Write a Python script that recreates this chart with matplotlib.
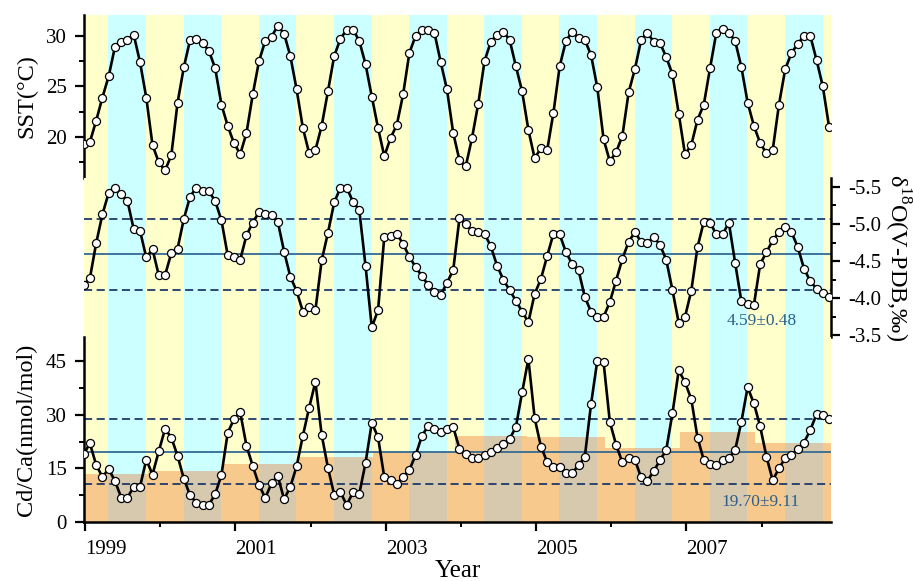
import numpy as np
import matplotlib.pyplot as plt

# Times-like font, with a fallback for any missing glyph
plt.rcParams['font.family'] = ['Liberation Serif', 'DejaVu Serif']
plt.rcParams['mathtext.fontset'] = 'custom'
plt.rcParams['mathtext.rm'] = 'Liberation Serif'
plt.rcParams['axes.unicode_minus'] = False

# monthly series, first sample at the start of 1999
START_YEAR = 1998.98

sst = [19.3, 19.5, 21.6, 23.9, 26.0, 28.9, 29.4, 29.6, 30.1, 27.4,
       23.9, 19.2, 17.5, 16.7, 18.2, 23.4, 26.9, 29.6, 29.7, 29.3,
       28.5, 26.8, 23.2, 21.1, 19.4, 18.3, 20.4, 24.2, 27.5, 29.5,
       29.9, 31.0, 30.2, 28.0, 24.7, 20.9, 18.4, 18.7, 21.1, 24.5,
       28.0, 29.7, 30.6, 30.6, 29.5, 27.2, 24.0, 20.9, 18.1, 19.9,
       21.2, 24.2, 28.3, 30.0, 30.6, 30.6, 30.3, 27.4, 24.7, 20.4,
       17.7, 17.1, 19.9, 23.3, 27.5, 29.4, 30.1, 30.4, 29.6, 27.0,
       24.5, 20.7, 17.9, 18.9, 18.7, 22.4, 27.0, 29.5, 30.4, 29.8,
       29.6, 28.1, 24.9, 19.8, 17.6, 18.5, 20.1, 24.4, 26.7, 29.6,
       30.3, 29.4, 29.3, 27.9, 26.2, 22.3, 18.3, 19.2, 21.7, 23.2,
       26.8, 30.3, 30.7, 30.3, 29.5, 26.9, 23.4, 21.1, 19.4, 18.4,
       18.7, 23.2, 26.7, 28.3, 29.2, 30.0, 30.0, 27.6, 25.0, 21.0]

d18o = [-4.18, -4.27, -4.74, -5.13, -5.42, -5.49, -5.40, -5.31, -4.93, -4.91,
        -4.55, -4.66, -4.31, -4.31, -4.61, -4.67, -5.07, -5.37, -5.49, -5.44,
        -5.44, -5.31, -5.05, -4.58, -4.55, -4.52, -4.85, -5.02, -5.16, -5.14,
        -5.12, -5.03, -4.63, -4.29, -4.10, -3.82, -3.88, -3.84, -4.51, -4.88,
        -5.29, -5.49, -5.49, -5.30, -5.19, -4.44, -3.61, -3.84, -4.83, -4.84,
        -4.87, -4.73, -4.56, -4.42, -4.30, -4.18, -4.08, -4.04, -4.21, -4.38,
        -5.08, -5.00, -4.91, -4.89, -4.87, -4.70, -4.44, -4.25, -4.11, -3.97,
        -3.82, -3.68, -4.06, -4.26, -4.57, -4.87, -4.86, -4.62, -4.46, -4.38,
        -4.02, -3.82, -3.75, -3.75, -3.95, -4.24, -4.53, -4.76, -4.89, -4.76,
        -4.74, -4.83, -4.72, -4.52, -4.11, -3.67, -3.75, -4.10, -4.69, -5.03,
        -5.02, -4.86, -4.86, -5.02, -4.48, -3.96, -3.93, -3.91, -4.46, -4.62,
        -4.78, -4.89, -4.96, -4.89, -4.69, -4.40, -4.23, -4.13, -4.07, -4.02]

cdca = [18.9, 22.0, 16.0, 12.6, 14.9, 11.5, 6.9, 6.9, 9.9, 9.9,
        17.4, 13.3, 19.8, 26.0, 23.6, 18.5, 12.1, 7.5, 5.5, 4.9,
        4.9, 7.8, 13.2, 24.9, 28.7, 30.6, 21.3, 15.7, 10.4, 6.8,
        10.9, 12.9, 6.4, 9.9, 15.6, 24.1, 31.9, 39.1, 24.4, 15.2,
        7.7, 8.4, 4.8, 8.4, 7.9, 16.5, 27.7, 23.7, 12.5, 11.8,
        10.7, 12.6, 14.6, 18.7, 24.0, 26.9, 26.0, 25.2, 25.9, 26.5,
        20.5, 18.9, 17.8, 18.0, 18.7, 19.6, 20.6, 21.8, 23.2, 26.5,
        36.2, 45.5, 29.0, 21.1, 16.8, 15.5, 15.5, 13.7, 13.7, 15.9,
        18.1, 32.9, 45.0, 44.6, 28.0, 21.6, 16.7, 18.0, 17.4, 12.5,
        11.6, 14.2, 17.3, 20.1, 30.4, 42.3, 39.0, 34.3, 23.6, 17.3,
        16.2, 15.9, 17.3, 17.9, 20.1, 28.0, 37.6, 33.1, 26.7, 18.3,
        11.7, 15.0, 17.9, 18.8, 20.4, 22.2, 25.7, 30.1, 30.0, 28.9]

# annual mean Cd/Ca (step bars)
bar_edges = [1998.98, 1999.83, 2000.83, 2001.83, 2002.83, 2003.92,
             2004.88, 2005.92, 2006.91, 2007.91, 2008.92]
bar_means = [13.4, 14.2, 16.2, 18.1, 19.5, 24.1, 23.7, 20.8, 25.1, 22.2]

D18O_MEAN, D18O_SD = 4.59, 0.48
CDCA_MEAN, CDCA_SD = 19.70, 9.11

year_ticks = [1999, 2001, 2003, 2005, 2007]
year_minor = [2000, 2002, 2004, 2006, 2008]

X_MIN, X_MAX = 1998.985, 2008.92
YELLOW = '#FFFFCC'
CYAN = '#CCFFFF'
SOLID_C = '#356A94'
DASH_C = '#1E3A6A'
TEXT_C = '#2B5F8C'


def add_bands(ax):
    # alternating half-year bands, cyan for the warm half
    ax.set_facecolor(YELLOW)
    for y in range(1999, 2009):
        ax.axvspan(y + 0.31, y + 0.81, color=CYAN, lw=0, zorder=0)
    ax.set_xlim(X_MIN, X_MAX)


def style_ticks(ax):
    ax.tick_params(which='major', direction='out', length=6.5, width=1.6,
                   labelsize=15, pad=6)
    ax.tick_params(which='minor', direction='out', length=3.8, width=1.4)
    for s in ax.spines.values():
        s.set_linewidth(1.8)


def plot_series(ax, x, y):
    ax.plot(x, y, '-o', color='black', lw=1.9, ms=5.8, mfc='white',
            mec='black', mew=0.9, zorder=4)


def main():
    months = START_YEAR + np.arange(len(sst)) / 12.0

    fig = plt.figure(figsize=(9.13, 5.81), dpi=100)
    ax1 = fig.add_axes([0.092, 0.6936, 0.818, 0.2806])
    ax2 = fig.add_axes([0.092, 0.42, 0.818, 0.2737])
    ax3 = fig.add_axes([0.092, 0.101, 0.818, 0.319])

    for ax in (ax1, ax2, ax3):
        add_bands(ax)

    # SST panel
    plot_series(ax1, months, sst)
    ax1.set_ylim(15.95, 32.05)
    ax1.set_yticks([20, 25, 30])
    ax1.set_yticks([17.5, 22.5, 27.5], minor=True)
    ax1.set_xticks([])
    for s in ('top', 'right', 'bottom'):
        ax1.spines[s].set_visible(False)
    ax1.set_ylabel('SST(°C)', fontsize=17.5, labelpad=6)
    style_ticks(ax1)

    # d18O panel (inverted, right axis)
    ax2.axhline(-D18O_MEAN, color=SOLID_C, lw=1.3, zorder=2)
    for v in (-D18O_MEAN - D18O_SD, -D18O_MEAN + D18O_SD):
        ax2.axhline(v, color=DASH_C, lw=1.3, ls=(0, (4.5, 2.5)), zorder=2)
    plot_series(ax2, months, d18o)
    ax2.set_ylim(-3.48, -5.62)
    ax2.set_yticks([-5.5, -5.0, -4.5, -4.0, -3.5])
    ax2.set_yticks([-5.25, -4.75, -4.25, -3.75], minor=True)
    ax2.yaxis.tick_right()
    ax2.yaxis.set_label_position('right')
    ax2.set_xticks([])
    for s in ('top', 'left', 'bottom'):
        ax2.spines[s].set_visible(False)
    ax2.set_ylabel('δ$^{\\mathregular{18}}$O(V-PDB,‰)', fontsize=17.5,
                   rotation=270, labelpad=22)
    ax2.text(2008.0, -3.70, f'{D18O_MEAN:.2f}±{D18O_SD:.2f}', color=TEXT_C,
             fontsize=12.5, ha='center', va='center', zorder=5)
    style_ticks(ax2)

    # Cd/Ca panel with annual mean bars
    widths = np.diff(bar_edges)
    ax3.bar(bar_edges[:-1], bar_means, width=widths, align='edge',
            color='#EC6E22', alpha=0.37, lw=0, zorder=1)
    ax3.axhline(CDCA_MEAN, color=SOLID_C, lw=1.3, zorder=2)
    for v in (CDCA_MEAN - CDCA_SD, CDCA_MEAN + CDCA_SD):
        ax3.axhline(v, color=DASH_C, lw=1.3, ls=(0, (4.5, 2.5)), zorder=2)
    plot_series(ax3, months, cdca)
    ax3.set_ylim(0, 51.6)
    ax3.set_yticks([0, 15, 30, 45])
    ax3.set_yticks([7.5, 22.5, 37.5], minor=True)
    ax3.set_xticks(year_ticks)
    ax3.set_xticks(year_minor, minor=True)
    # year labels start at their tick, as in the original figure
    ax3.set_xticklabels([str(y) for y in year_ticks], ha='left')
    for s in ('top', 'right'):
        ax3.spines[s].set_visible(False)
    ax3.set_ylabel('Cd/Ca(nmol/mol)', fontsize=17.5, labelpad=6)
    ax3.set_xlabel('Year', fontsize=18, labelpad=1)
    ax3.text(2007.98, 5.6, f'{CDCA_MEAN:.2f}±{CDCA_SD:.2f}', color=TEXT_C,
             fontsize=12.5, ha='center', va='center', zorder=5)
    style_ticks(ax3)

    fig.savefig('out.png', dpi=100)


if __name__ == "__main__":
    main()
